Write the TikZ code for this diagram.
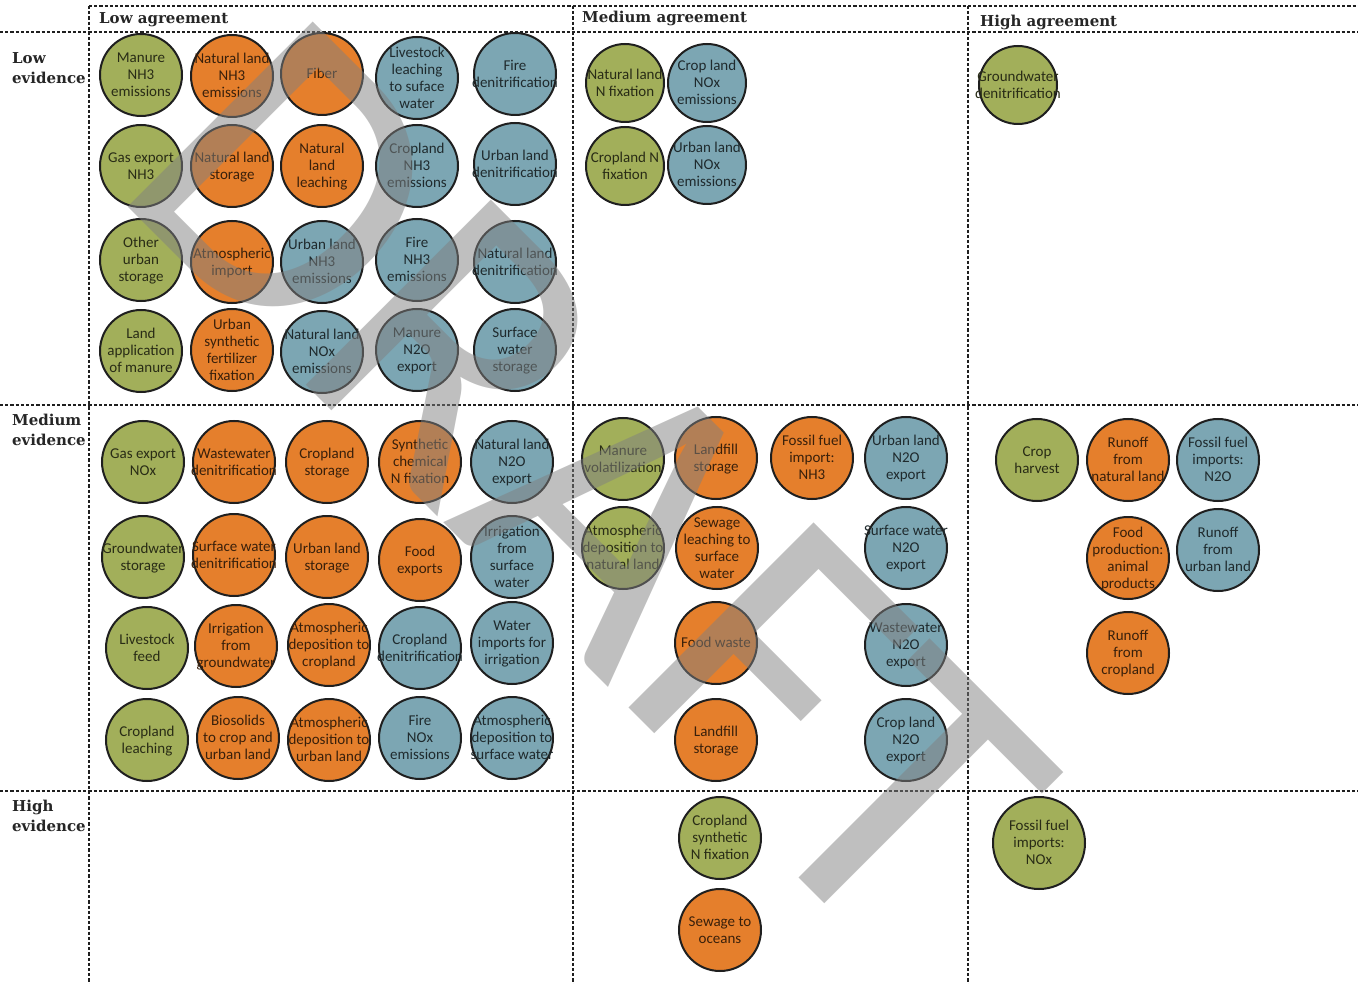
\documentclass[tikz,border=0pt]{standalone}
\usepackage{fontspec}
\newfontfamily\circfont{Carlito}
\newfontfamily\headfont{DejaVu Serif}
\newfontfamily\markfont{Carlito}
\usetikzlibrary{calc}

\definecolor{fluxgreen}{RGB}{162,175,90}
\definecolor{fluxorange}{RGB}{229,127,44}
\definecolor{fluxblue}{RGB}{124,166,179}

% text of a flux circle, kept out of the circle size
\newcommand{\flux}[1]{\raisebox{-.32em}[0pt][0pt]{\makebox[0pt]{%
    \begin{tabular}{@{}c@{}}#1\end{tabular}}}}

\begin{document}
\begin{tikzpicture}[x=1pt, y=-1pt,
    flux/.style={circle, draw=black!88, line width=2pt, minimum size=82pt,
        inner sep=0pt, font=\circfont\fontsize{15}{17}\selectfont},
    greenflux/.style={flux, fill=fluxgreen, text=fluxgreen!25!black},
    orangeflux/.style={flux, fill=fluxorange, text=fluxorange!25!black},
    blueflux/.style={flux, fill=fluxblue, text=fluxblue!25!black},
    gridline/.style={line width=2.8pt, dash pattern=on 3.2pt off 2pt, black!88},
    headlabel/.style={anchor=west, inner sep=0pt, text=black!85,
        font=\headfont\bfseries\fontsize{15}{20}\selectfont},
    rowlabel/.style={headlabel, align=left},
    watermark/.style={inner sep=0pt, text=black!50, text opacity=.5,
        font=\markfont\fontsize{408}{408}\selectfont}]
    \useasboundingbox (0,0) rectangle (1358,984);

    % grid
    \draw [gridline] (89,6) -- (1358,6);
    \draw [gridline] (0,32) -- (1358,32);
    \draw [gridline] (0,405) -- (1358,405);
    \draw [gridline] (0,791) -- (1358,791);
    \draw [gridline] (89,6) -- (89,984);
    \draw [gridline] (573,6) -- (573,984);
    \draw [gridline] (968,6) -- (968,984);

    \node (low_agreement) at (99,20) [headlabel] {Low agreement};
    \node (medium_agreement) at (582,18) [headlabel] {Medium agreement};
    \node (high_agreement) at (980,22) [headlabel] {High agreement};
    \node (low_evidence) at (12,68) [rowlabel] {Low\\evidence};
    \node (medium_evidence) at (12,430) [rowlabel] {Medium\\evidence};
    \node (high_evidence) at (12,816) [rowlabel] {High\\evidence};

    % Low agreement, low evidence
    \node (manure_nh3) at (141,75) [greenflux] {\flux{Manure\\NH3\\emissions}};
    \node (natural_land_nh3) at (232,76) [orangeflux] {\flux{Natural land\\NH3\\emissions}};
    \node (fiber) at (322,74) [orangeflux] {\flux{Fiber}};
    \node (livestock_leaching) at (417,78) [blueflux] {\flux{Livestock\\leaching\\to suface\\water}};
    \node (fire_denitrification) at (515,74) [blueflux] {\flux{Fire\\denitrification}};
    \node (gas_export_nh3) at (141,166) [greenflux] {\flux{Gas export\\NH3}};
    \node (natural_land_storage) at (232,166) [orangeflux] {\flux{Natural land\\storage}};
    \node (natural_land_leaching) at (322,166) [orangeflux] {\flux{Natural\\land\\leaching}};
    \node (cropland_nh3) at (417,166) [blueflux] {\flux{Cropland\\NH3\\emissions}};
    \node (urban_land_denitrification) at (515,164) [blueflux] {\flux{Urban land\\denitrification}};
    \node (other_urban_storage) at (141,260) [greenflux] {\flux{Other\\urban\\storage}};
    \node (atmospheric_import) at (232,262) [orangeflux] {\flux{Atmospheric\\import}};
    \node (urban_land_nh3) at (322,262) [blueflux] {\flux{Urban land\\NH3\\emissions}};
    \node (fire_nh3) at (417,260) [blueflux] {\flux{Fire\\NH3\\emissions}};
    \node (natural_land_denitrification) at (515,262) [blueflux] {\flux{Natural land\\denitrification}};
    \node (land_application_manure) at (141,351) [greenflux] {\flux{Land\\application\\of manure}};
    \node (urban_synthetic_fixation) at (232,350) [orangeflux] {\flux{Urban\\synthetic\\fertilizer\\fixation}};
    \node (natural_land_nox) at (322,352) [blueflux] {\flux{Natural land\\NOx\\emissions}};
    \node (manure_n2o) at (417,350) [blueflux] {\flux{Manure\\N2O\\export}};
    \node (surface_water_storage) at (515,350) [blueflux] {\flux{Surface\\water\\storage}};

    % Low agreement, medium evidence
    \node (gas_export_nox) at (143,462) [greenflux] {\flux{Gas export\\NOx}};
    \node (wastewater_denitrification) at (234,462) [orangeflux] {\flux{Wastewater\\denitrification}};
    \node (cropland_storage) at (327,462) [orangeflux] {\flux{Cropland\\storage}};
    \node (synthetic_chemical_fixation) at (420,462) [orangeflux] {\flux{Synthetic\\chemical\\N fixation}};
    \node (natural_land_n2o) at (512,462) [blueflux] {\flux{Natural land\\N2O\\export}};
    \node (groundwater_storage) at (143,557) [greenflux] {\flux{Groundwater\\storage}};
    \node (surface_water_denitrification) at (234,555) [orangeflux] {\flux{Surface water\\denitrification}};
    \node (urban_land_storage) at (327,557) [orangeflux] {\flux{Urban land\\storage}};
    \node (food_exports) at (420,560) [orangeflux] {\flux{Food\\exports}};
    \node (irrigation_surface_water) at (512,557) [blueflux] {\flux{Irrigation\\from\\surface\\water}};
    \node (livestock_feed) at (147,648) [greenflux] {\flux{Livestock\\feed}};
    \node (irrigation_groundwater) at (236,646) [orangeflux] {\flux{Irrigation\\from\\groundwater}};
    \node (atm_deposition_cropland) at (329,645) [orangeflux] {\flux{Atmospheric\\deposition to\\cropland}};
    \node (cropland_denitrification) at (420,648) [blueflux] {\flux{Cropland\\denitrification}};
    \node (water_imports_irrigation) at (512,643) [blueflux] {\flux{Water\\imports for\\irrigation}};
    \node (cropland_leaching) at (147,740) [greenflux] {\flux{Cropland\\leaching}};
    \node (biosolids) at (238,738) [orangeflux] {\flux{Biosolids\\to crop and\\urban land}};
    \node (atm_deposition_urban) at (329,740) [orangeflux] {\flux{Atmospheric\\deposition to\\urban land}};
    \node (fire_nox) at (420,738) [blueflux] {\flux{Fire\\NOx\\emissions}};
    \node (atm_deposition_surface) at (512,738) [blueflux] {\flux{Atmospheric\\deposition to\\surface water}};

    % Medium agreement
    \node (natural_land_fixation) at (625,83) [greenflux, minimum size=78pt] {\flux{Natural land\\N fixation}};
    \node (crop_land_nox) at (707,83) [blueflux, minimum size=78pt] {\flux{Crop land\\NOx\\emissions}};
    \node (cropland_fixation) at (625,166) [greenflux, minimum size=78pt] {\flux{Cropland N\\fixation}};
    \node (urban_land_nox) at (707,165) [blueflux, minimum size=78pt] {\flux{Urban land\\NOx\\emissions}};

    \node (manure_volatilization) at (623,459) [greenflux] {\flux{Manure\\volatilization}};
    \node (landfill_storage) at (716,458) [orangeflux] {\flux{Landfill\\storage}};
    \node (fossil_fuel_nh3) at (812,458) [orangeflux] {\flux{Fossil fuel\\import:\\NH3}};
    \node (urban_land_n2o) at (906,458) [blueflux] {\flux{Urban land\\N2O\\export}};
    \node (atm_deposition_natural) at (623,548) [greenflux] {\flux{Atmospheric\\deposition to\\natural land}};
    \node (sewage_leaching) at (717,548) [orangeflux] {\flux{Sewage\\leaching to\\surface\\water}};
    \node (surface_water_n2o) at (906,548) [blueflux] {\flux{Surface water\\N2O\\export}};
    \node (food_waste) at (716,643) [orangeflux] {\flux{Food waste}};
    \node (wastewater_n2o) at (906,645) [blueflux] {\flux{Wastewater\\N2O\\export}};
    \node (landfill_storage_low) at (716,740) [orangeflux] {\flux{Landfill\\storage}};
    \node (crop_land_n2o) at (906,740) [blueflux] {\flux{Crop land\\N2O\\export}};

    \node (cropland_synthetic_fixation) at (720,838) [greenflux] {\flux{Cropland\\synthetic\\N fixation}};
    \node (sewage_oceans) at (720,930) [orangeflux] {\flux{Sewage to\\oceans}};

    % High agreement
    \node (groundwater_denitrification) at (1018,85) [greenflux, minimum size=78pt] {\flux{Groundwater\\denitrification}};

    \node (crop_harvest) at (1037,460) [greenflux] {\flux{Crop\\harvest}};
    \node (runoff_natural) at (1128,460) [orangeflux] {\flux{Runoff\\from\\natural land}};
    \node (fossil_fuel_n2o) at (1218,460) [blueflux] {\flux{Fossil fuel\\imports:\\N2O}};
    \node (food_production_animal) at (1128,558) [orangeflux] {\flux{Food\\production:\\animal\\products}};
    \node (runoff_urban) at (1218,550) [blueflux] {\flux{Runoff\\from\\urban land}};
    \node (runoff_cropland) at (1128,653) [orangeflux] {\flux{Runoff\\from\\cropland}};

    \node (fossil_fuel_nox) at (1039,843) [greenflux, minimum size=92pt] {\flux{Fossil fuel\\imports:\\NOx}};

    % watermark
    \node (draft_mark) at (108,187) [watermark, anchor=base west, rotate=-45] {DRAFT};
\end{tikzpicture}
\end{document}
